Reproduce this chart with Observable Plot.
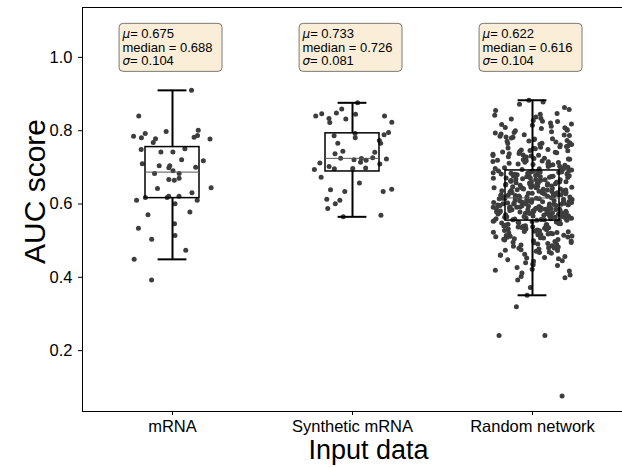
<!DOCTYPE html>
<html><head><meta charset="utf-8">
<script src="https://cdn.jsdelivr.net/npm/d3@7"></script>
<script src="https://cdn.jsdelivr.net/npm/@observablehq/plot@0.6"></script>
<style>body{margin:0;background:#fff}</style>
</head><body><div id="chart"></div>
<script>
const categories = ["mRNA", "Synthetic mRNA", "Random network"];

const mrnaScores = [0.910, 0.840, 0.798, 0.801, 0.792, 0.787, 0.781, 0.777, 0.778, 0.782,
  0.785, 0.768, 0.751, 0.742, 0.749, 0.742, 0.721, 0.699, 0.704, 0.710,
  0.700, 0.718, 0.704, 0.691, 0.683, 0.683, 0.670, 0.665, 0.667, 0.642,
  0.644, 0.631, 0.621, 0.621, 0.618, 0.610, 0.610, 0.618, 0.601, 0.578,
  0.571, 0.546, 0.534, 0.514, 0.504, 0.474, 0.449, 0.393];

const syntheticScores = [0.876, 0.859, 0.848, 0.845, 0.846, 0.840, 0.840, 0.833, 0.832, 0.823,
  0.822, 0.792, 0.795, 0.789, 0.786, 0.781, 0.773, 0.766, 0.766, 0.737,
  0.741, 0.744, 0.726, 0.723, 0.721, 0.724, 0.725, 0.709, 0.714, 0.712,
  0.719, 0.702, 0.696, 0.698, 0.694, 0.697, 0.673, 0.657, 0.639, 0.640,
  0.634, 0.634, 0.613, 0.610, 0.601, 0.588, 0.565, 0.569];

const randomScores = [
  0.883, 0.872, 0.863, 0.855, 0.847, 0.842, 0.837, 0.832,
  0.828, 0.825, 0.821, 0.818, 0.815, 0.812,
  0.809, 0.806, 0.803, 0.800, 0.797, 0.794, 0.791,
  0.789, 0.787, 0.785, 0.782, 0.780, 0.778, 0.776, 0.773, 0.771,
  0.769, 0.767, 0.765, 0.763, 0.761, 0.759, 0.757, 0.755, 0.753, 0.751,
  0.749, 0.747, 0.745, 0.743, 0.741, 0.740, 0.738, 0.736, 0.734, 0.733, 0.731,
  0.729, 0.727, 0.725, 0.724, 0.722, 0.721, 0.719, 0.717, 0.716, 0.714, 0.713, 0.711,
  0.709, 0.708, 0.706, 0.705, 0.703, 0.702, 0.700, 0.699, 0.697, 0.696, 0.694, 0.693,
  0.878, 0.858, 0.845, 0.834, 0.826, 0.817, 0.808, 0.801, 0.795, 0.788,
  0.783, 0.777, 0.772, 0.766, 0.762, 0.756, 0.752, 0.746, 0.742, 0.737,
  0.732, 0.728, 0.723, 0.718, 0.715, 0.710, 0.707, 0.701, 0.698, 0.695,
  0.691, 0.690, 0.689, 0.688, 0.687, 0.686, 0.685, 0.684, 0.683, 0.682, 0.681, 0.680,
  0.679, 0.678, 0.677, 0.676, 0.675, 0.674, 0.673, 0.672, 0.671, 0.670,
  0.668, 0.667, 0.666, 0.665, 0.664, 0.663, 0.662, 0.661, 0.660, 0.659,
  0.658, 0.657, 0.656, 0.655, 0.654, 0.653, 0.652, 0.651, 0.650,
  0.648, 0.647, 0.646, 0.645, 0.644, 0.643, 0.642, 0.641, 0.640, 0.639,
  0.638, 0.637, 0.636, 0.635, 0.634, 0.633, 0.632, 0.631, 0.630,
  0.629, 0.629, 0.628, 0.627, 0.626, 0.625, 0.625, 0.624, 0.623, 0.622,
  0.621, 0.620, 0.619, 0.618, 0.617,
  0.690, 0.687, 0.684, 0.682, 0.679, 0.677, 0.674, 0.671, 0.669, 0.666,
  0.663, 0.661, 0.658, 0.655, 0.652, 0.649, 0.646, 0.644, 0.641, 0.638,
  0.636, 0.633, 0.631, 0.628, 0.626, 0.624, 0.622, 0.620, 0.619, 0.617,
  0.616, 0.615, 0.614, 0.613, 0.612, 0.611, 0.610, 0.610, 0.609, 0.608,
  0.607, 0.606, 0.605, 0.605, 0.604, 0.603, 0.602, 0.601, 0.601, 0.600,
  0.599, 0.599, 0.598, 0.597, 0.596, 0.596, 0.595, 0.594, 0.593, 0.592,
  0.592, 0.591, 0.590, 0.589, 0.588, 0.588, 0.587, 0.586, 0.585, 0.584,
  0.584, 0.583, 0.582, 0.581, 0.581, 0.580,
  0.579, 0.579, 0.578, 0.577, 0.576, 0.576, 0.575, 0.574, 0.573, 0.572,
  0.572, 0.571, 0.570, 0.569, 0.568, 0.567, 0.567, 0.566, 0.565, 0.564,
  0.563, 0.562, 0.561, 0.560, 0.559, 0.558, 0.557, 0.556, 0.555,
  0.616, 0.614, 0.612, 0.609, 0.607, 0.604, 0.602, 0.600, 0.598, 0.595,
  0.593, 0.591, 0.589, 0.586, 0.584, 0.582, 0.580, 0.578, 0.576, 0.574,
  0.572, 0.570, 0.568, 0.566, 0.564, 0.562, 0.560, 0.558, 0.557, 0.556,
  0.554, 0.552, 0.551, 0.550, 0.548, 0.547, 0.545, 0.544, 0.542, 0.541,
  0.539, 0.538, 0.536, 0.535, 0.533, 0.532, 0.530,
  0.528, 0.527, 0.525, 0.524, 0.522, 0.521, 0.519, 0.518, 0.516, 0.515,
  0.513, 0.512, 0.510,
  0.509, 0.507, 0.505, 0.504, 0.502, 0.500, 0.498, 0.496, 0.494, 0.492, 0.490,
  0.488, 0.485, 0.483, 0.481, 0.479, 0.477, 0.475, 0.473, 0.471,
  0.469, 0.466, 0.463, 0.460, 0.457, 0.454, 0.451,
  0.448, 0.444, 0.440, 0.436, 0.432,
  0.427, 0.422, 0.417, 0.412,
  0.406, 0.399, 0.393,
  0.372, 0.351,
  0.553, 0.549, 0.546, 0.543, 0.540, 0.537, 0.534, 0.531, 0.529, 0.526,
  0.523, 0.520, 0.517, 0.514, 0.511, 0.508, 0.503, 0.499, 0.495, 0.491,
  0.486, 0.480, 0.474, 0.468, 0.461, 0.453, 0.445, 0.434, 0.419, 0.402,
  0.320, 0.241, 0.241, 0.076];

const statMeans = [0.675, 0.733, 0.622];
const statMedians = [0.688, 0.726, 0.616];
const statSDs = [0.104, 0.081, 0.104];
const yTicks = [0.2, 0.4, 0.6, 0.8, 1.0];

// ---- derived ----
const groups = [mrnaScores, syntheticScores, randomScores];
const JIT = 0.44;
// deterministic strip-plot jitter (x offset only)
const jitter = (i, g) => {
  const s = Math.sin((i + 1) * 78.233 + (g + 1) * 12.9898) * 43758.5453;
  return (s - Math.floor(s)) - 0.5;
};
const points = groups.flatMap((vals, g) =>
  vals.map((v, i) => ({g, v, j: jitter(i, g) * JIT})));

const stats = groups.map((vals, g) => {
  const s = vals.slice().sort(d3.ascending);
  const q1 = d3.quantile(s, 0.25), q3 = d3.quantile(s, 0.75), med = d3.quantile(s, 0.5);
  const iqr = q3 - q1;
  const lo = d3.min(s.filter(v => v >= q1 - 1.5 * iqr));
  const hi = d3.max(s.filter(v => v <= q3 + 1.5 * iqr));
  return {g, q1, q3, med, lo, hi};
});

const statRows = categories.map((c, g) => ({g, mean: statMeans[g], median: statMedians[g], sd: statSDs[g]}));

const yDomain = [0.034, 1.136];
const BOX_HALF = 0.15, CAP_HALF = 0.08;
const LB_TOP = 1.0914, LB_BOT = 0.9604;
const f3 = d3.format(".3f");
const textFont = "Liberation Sans";
const STAT_FS = 13;

const chart = Plot.plot({
  width: 622,
  height: 467,
  marginLeft: 82,
  marginRight: 0,
  marginTop: 7,
  marginBottom: 56,
  style: {fontFamily: textFont, fontSize: "16px", color: "black", background: "white"},
  x: {type: "linear", domain: [-0.5, 2.5]},
  y: {domain: yDomain},
  marks: [
    Plot.dot(points, {x: d => d.g + d.j, y: "v", r: 2.5, fill: "#3d3d3d", stroke: null}),
    Plot.rect(stats, {x1: d => d.g - BOX_HALF, x2: d => d.g + BOX_HALF, y1: "q1", y2: "q3",
      fill: "none", stroke: "black", strokeWidth: 1.5}),
    Plot.ruleY(stats, {x1: d => d.g - BOX_HALF, x2: d => d.g + BOX_HALF, y: "med", stroke: "#555", strokeWidth: 1}),
    Plot.ruleX(stats, {x: "g", y1: "q3", y2: "hi", stroke: "black", strokeWidth: 2}),
    Plot.ruleX(stats, {x: "g", y1: "lo", y2: "q1", stroke: "black", strokeWidth: 2}),
    Plot.ruleY(stats, {x1: d => d.g - CAP_HALF, x2: d => d.g + CAP_HALF, y: "hi", stroke: "black", strokeWidth: 2}),
    Plot.ruleY(stats, {x1: d => d.g - CAP_HALF, x2: d => d.g + CAP_HALF, y: "lo", stroke: "black", strokeWidth: 2}),
    // stat label boxes
    Plot.rect(statRows, {x1: d => d.g - 0.294, x2: d => d.g + 0.278, y1: () => LB_BOT, y2: () => LB_TOP,
      fill: "#f5deb3", fillOpacity: 0.5, stroke: "black", strokeOpacity: 0.5, strokeWidth: 1, rx: 4}),
    Plot.text(statRows, {x: "g", y: () => LB_TOP, dx: -50, dy: 10, text: d => "μ= " + f3(d.mean),
      fontSize: STAT_FS, textAnchor: "start"}),
    Plot.text(statRows, {x: "g", y: () => LB_TOP, dx: -50, dy: 23.5, text: d => "median = " + f3(d.median),
      fontSize: STAT_FS, textAnchor: "start"}),
    Plot.text(statRows, {x: "g", y: () => LB_TOP, dx: -50, dy: 37, text: d => "σ= " + f3(d.sd),
      fontSize: STAT_FS, textAnchor: "start"}),
    // spines
    Plot.ruleX([-0.5], {stroke: "black", strokeWidth: 1}),
    Plot.ruleY([yDomain[0], yDomain[1]], {stroke: "black", strokeWidth: 1}),
    // axes
    Plot.axisY({ticks: yTicks, tickFormat: d3.format(".1f"), tickSize: 4, tickPadding: 6, label: null, fontSize: 16.5}),
    Plot.axisX({ticks: [0, 1, 2], tickFormat: i => categories[i], tickSize: 4, tickPadding: 5, label: null, fontSize: 16.5}),
    // axis titles
    Plot.text(["Input data"], {frameAnchor: "bottom", text: d => d, dx: 16, dy: 39,
      lineAnchor: "middle", textAnchor: "middle", fontSize: 27}),
    Plot.text(["AUC score"], {frameAnchor: "left", text: d => d, rotate: -90, dx: -47, dy: -18,
      lineAnchor: "middle", textAnchor: "middle", fontSize: 30})
  ]
});

// italic math symbols (μ, σ) as in the original annotation boxes
const NS = "http://www.w3.org/2000/svg";
chart.querySelectorAll("text").forEach(t => {
  const s = t.textContent;
  if ((s.startsWith("μ=") || s.startsWith("σ=")) && t.children.length === 0) {
    t.textContent = "";
    const a = document.createElementNS(NS, "tspan");
    a.setAttribute("font-style", "italic");
    a.setAttribute("font-family", "DejaVu Sans");
    a.setAttribute("font-size", "12");
    a.textContent = s[0];
    const b = document.createElementNS(NS, "tspan");
    b.textContent = s.slice(1);
    t.append(a, b);
  }
});
document.getElementById("chart").appendChild(chart);
</script>
</body></html>
